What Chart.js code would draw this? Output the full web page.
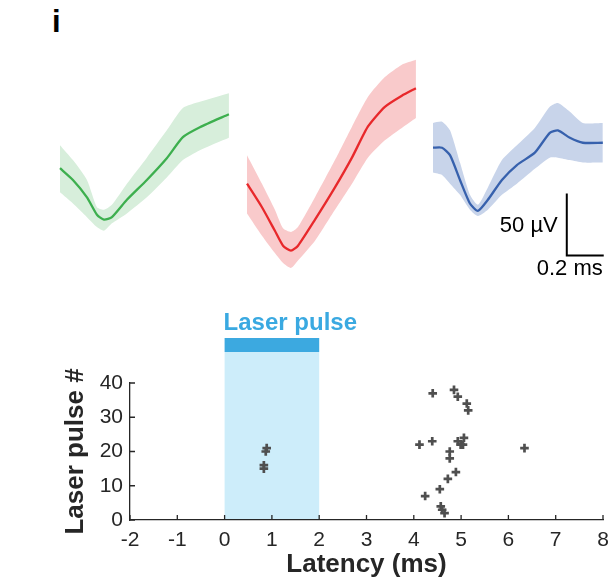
<!DOCTYPE html>
<html><head><meta charset="utf-8">
<script src="https://cdn.jsdelivr.net/npm/chart.js@4/dist/chart.umd.min.js"></script>
<style>
html,body{margin:0;padding:0;background:#fff;}
body{width:612px;height:579px;position:relative;overflow:hidden;font-family:"Liberation Sans",Arial,sans-serif;}
canvas{position:absolute;}
#panelLabel{position:absolute;left:52px;top:6px;font:bold 31px "Liberation Sans",Arial,sans-serif;line-height:31px;color:#000;}
</style></head><body>
<div id="panelLabel">i</div>
<canvas id="wGreen" width="178" height="256" style="left:56px;top:47px"></canvas>
<canvas id="wRed" width="178" height="256" style="left:243px;top:47px"></canvas>
<canvas id="wBlue" width="183" height="256" style="left:429px;top:47px"></canvas>
<canvas id="raster" width="612" height="279" style="left:0;top:300px"></canvas>
<script>
// ---------- Waveforms (time in ms, voltage in µV) ----------
const greenTime  = [0, 0.07, 0.146, 0.2, 0.238, 0.281, 0.362, 0.47, 0.578, 0.665, 0.757, 0.914];
const greenMean  = [-14.5, -24, -38, -52, -56, -54, -40, -24, -6.5, 10.5, 18.5, 29];
const greenUpper = [4, -8, -24, -46, -48, -44, -27, -6, 16, 34, 39, 46];
const greenLower = [-34, -43, -54, -62, -65, -59, -51, -38, -22, -8, 0, 10];

const redTime  = [0, 0.081, 0.151, 0.195, 0.238, 0.276, 0.368, 0.476, 0.568, 0.654, 0.746, 0.838, 0.914];
const redMean  = [-27, -46, -65, -77, -81, -77, -56, -30, -6, 19, 35, 44, 50];
const redUpper = [-4, -27, -48, -63, -66, -62, -38, -8, 19, 43, 59, 69, 73];
const redLower = [-51, -69, -83, -91, -95, -89, -73, -48, -27, -6, 8, 18, 26];

const blueTime  = [0, 0.049, 0.092, 0.146, 0.2, 0.243, 0.297, 0.373, 0.454, 0.551, 0.632, 0.676, 0.741, 0.811, 0.919];
const blueMean  = [2, 2, -4, -24, -43, -49, -40, -24, -12, -2, 14, 16, 10, 6, 6];
const blueUpper = [22, 23, 16, -10, -36, -44, -30, -8, 4, 18, 35, 38, 31, 22, 22];
const blueLower = [-18, -20, -27, -36, -48, -53, -48, -36, -27, -15, -6, -6, -8, -10, -10];

const scaleBarMs = 0.2;
const scaleBarUV = 50;
const scaleBarOrigin = [0.724, -85];
const scaleBarLabels = ['50 µV', '0.2 ms'];

// ---------- Raster ----------
const latencyTicks = [-2, -1, 0, 1, 2, 3, 4, 5, 6, 7, 8];
const pulseTicks = [0, 10, 20, 30, 40];
const pulseWindow = [0, 2];
const pulseLabel = 'Laser pulse';
const spikeLatency = [0.89, 0.87, 0.83, 0.83,
  4.40, 4.85, 4.93, 5.12, 5.15, 4.12, 4.39, 4.93, 4.99, 5.06, 5.04,
  4.76, 4.76, 6.34, 4.89, 4.72, 4.55, 4.24, 4.57, 4.60, 4.65];
const spikePulse = [21, 20, 16, 15,
  37, 38, 36, 34, 32, 22, 23, 23, 22, 24, 22,
  20, 18, 21, 14, 12, 9, 7, 4, 3, 2];
const xTitle = 'Latency (ms)';
const yTitle = 'Laser pulse #';

const FONT = '"Liberation Sans", Arial, sans-serif';
const INK = '#262626';

function waveChart(id, t, mean, upper, lower, line, fill, padRight, extra) {
  const pts = arr => arr.map((v, i) => ({x: t[i], y: v}));
  return new Chart(document.getElementById(id), {
    type: 'line',
    data: {datasets: [
      {data: pts(mean), borderColor: line, borderWidth: 2.3, pointRadius: 0, fill: false, tension: 0.2, clip: false},
      {data: pts(upper), borderWidth: 0, borderColor: 'rgba(0,0,0,0)', backgroundColor: fill, pointRadius: 0, fill: '+1', tension: 0.2, clip: false},
      {data: pts(lower), borderWidth: 0, borderColor: 'rgba(0,0,0,0)', pointRadius: 0, fill: false, tension: 0.2, clip: false}
    ]},
    options: {
      responsive: false, animation: false, events: [],
      layout: {padding: {left: 4, right: padRight, top: 4, bottom: 4}},
      plugins: {legend: {display: false}, tooltip: {enabled: false}},
      scales: {
        x: {type: 'linear', display: false, min: 0, max: 0.92},
        y: {type: 'linear', display: false, min: -120, max: 80}
      }
    },
    plugins: extra || []
  });
}

const scaleBar = {
  id: 'scaleBar',
  afterDraw(chart) {
    const {ctx, scales: {x, y}} = chart;
    const xa = x.getPixelForValue(scaleBarOrigin[0]);
    const xb = x.getPixelForValue(scaleBarOrigin[0] + scaleBarMs);
    const ya = y.getPixelForValue(scaleBarOrigin[1]);
    const yb = y.getPixelForValue(scaleBarOrigin[1] + scaleBarUV);
    ctx.save();
    ctx.strokeStyle = '#000'; ctx.lineWidth = 2;
    ctx.beginPath();
    ctx.moveTo(xa, yb); ctx.lineTo(xa, ya); ctx.lineTo(xb, ya);
    ctx.stroke();
    ctx.fillStyle = '#000';
    ctx.font = '22px ' + FONT;
    ctx.textAlign = 'right'; ctx.textBaseline = 'middle';
    ctx.fillText(scaleBarLabels[0], xa - 9, (ya + yb) / 2 + 1);
    ctx.textBaseline = 'top';
    ctx.fillText(scaleBarLabels[1], xb - 1, ya + 2);
    ctx.restore();
  }
};

waveChart('wGreen', greenTime, greenMean, greenUpper, greenLower, '#3daf4e', '#d7eedb', 4);
waveChart('wRed', redTime, redMean, redUpper, redLower, '#e8282b', '#f9cacb', 4);
waveChart('wBlue', blueTime, blueMean, blueUpper, blueLower, '#3761ad', '#c8d4ea', 9, [scaleBar]);

const laserPulse = {
  id: 'laserPulse',
  beforeDraw(chart) {
    const {ctx, chartArea: a, scales: {x}} = chart;
    const x0 = x.getPixelForValue(pulseWindow[0]);
    const x1 = x.getPixelForValue(pulseWindow[1]);
    ctx.save();
    ctx.fillStyle = '#cdedfa';
    ctx.fillRect(x0, a.top - 31, x1 - x0, a.bottom - (a.top - 31));
    ctx.fillStyle = '#3ca9e0';
    ctx.fillRect(x0, a.top - 45, x1 - x0, 14);
    ctx.font = 'bold 24px ' + FONT;
    ctx.fillStyle = '#3aa9e1';
    ctx.textAlign = 'left'; ctx.textBaseline = 'alphabetic';
    ctx.fillText(pulseLabel, x0 - 1, a.top - 53);
    ctx.restore();
  }
};

const inwardTicks = {
  id: 'inwardTicks',
  afterDraw(chart) {
    const {ctx, chartArea: a, scales: {x, y}} = chart;
    ctx.save();
    ctx.strokeStyle = INK; ctx.lineWidth = 1.3;
    ctx.beginPath();
    latencyTicks.forEach(v => { const px = x.getPixelForValue(v); ctx.moveTo(px, a.bottom); ctx.lineTo(px, a.bottom - 5); });
    pulseTicks.forEach(v => { const py = y.getPixelForValue(v); ctx.moveTo(a.left, py); ctx.lineTo(a.left + 5, py); });
    ctx.stroke();
    ctx.restore();
  }
};

new Chart(document.getElementById('raster'), {
  type: 'scatter',
  data: {datasets: [{
    data: spikeLatency.map((v, i) => ({x: v, y: spikePulse[i]})),
    pointStyle: 'cross', pointRadius: 4.3, borderWidth: 2.7,
    borderColor: '#4f4f4f', backgroundColor: '#4f4f4f', clip: false
  }]},
  options: {
    responsive: false, animation: false, events: [],
    layout: {padding: {left: 0, right: 9, top: 83, bottom: 0}},
    plugins: {legend: {display: false}, tooltip: {enabled: false}},
    scales: {
      x: {
        type: 'linear', min: -2, max: 8,
        afterBuildTicks: s => { s.ticks = latencyTicks.map(v => ({value: v})); },
        ticks: {font: {size: 21, family: FONT}, color: INK, padding: 0, autoSkip: false, maxRotation: 0},
        grid: {display: false, drawTicks: true, tickLength: 8},
        border: {display: true, color: INK, width: 1.3},
        title: {display: true, text: xTitle, color: INK, font: {size: 26, weight: 'bold', family: FONT, lineHeight: 1.1}, padding: {top: 0, bottom: 0}},
        afterFit: s => { s.height = 59; }
      },
      y: {
        type: 'linear', min: 0, max: 40,
        afterBuildTicks: s => { s.ticks = pulseTicks.map(v => ({value: v})); },
        ticks: {font: {size: 21, family: FONT}, color: INK, padding: 0},
        grid: {display: false, drawTicks: true, tickLength: 7},
        border: {display: true, color: INK, width: 1.3},
        title: {display: true, text: yTitle, color: INK, font: {size: 26, weight: 'bold', family: FONT, lineHeight: 1.1}, padding: {top: 62, bottom: 0}},
        afterFit: s => { s.width = 130; }
      }
    }
  },
  plugins: [laserPulse, inwardTicks]
});
</script>
</body></html>
